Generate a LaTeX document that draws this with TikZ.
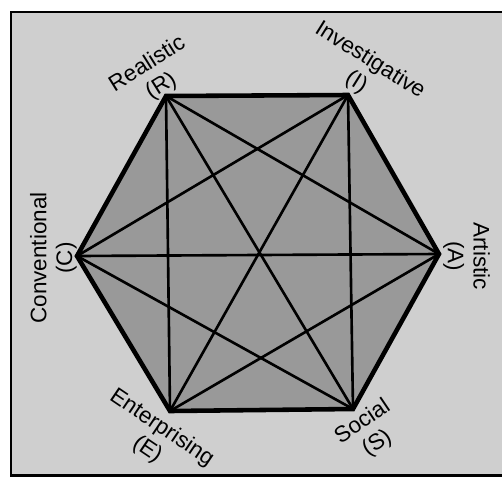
\documentclass[tikz,border=0pt]{standalone}
\usepackage{fontspec}
\setmainfont{Liberation Sans}
\begin{document}
\begin{tikzpicture}[x=0.02cm, y=-0.02cm,
    frame/.style={line width=1.7pt, draw=black},
    hexa/.style={line width=2.6pt, draw=black, line join=miter},
    diag/.style={line width=1.5pt},
    lbl/.style={align=center, inner sep=0pt,
                font=\fontsize{12.8}{14.7}\selectfont},
  ]
  \useasboundingbox (0,0) rectangle (502,477);
  % Fon ve cerceve
  \fill[black!19] (11,12) rectangle (502,475);
  \draw[frame] (502,12) -- (11,12) -- (11,475) -- (502,475);

  % Kose noktalari
  \coordinate (R) at (166,96);
  \coordinate (I) at (348,95);
  \coordinate (A) at (439,254);
  \coordinate (S) at (353,409);
  \coordinate (E) at (170,411);
  \coordinate (C) at (77,256);

  % Altigen ve kosegenler
  \fill[black!40] (R) -- (I) -- (A) -- (S) -- (E) -- (C) -- cycle;
  \foreach \a/\b in {R/A,R/S,R/E,I/S,I/E,I/C,A/E,A/C,S/C}
    \draw[diag] (\a) -- (\b);
  \draw[hexa] (R) -- (I) -- (A) -- (S) -- (E) -- (C) -- cycle;

  % Etiketler
  \node[lbl, rotate=32]  (lr) at (154.5,75.5) {Realistic\\(R)};
  \node[lbl, rotate=-32] (li) at (363,71.5)   {Investigative\\(I)};
  \node[lbl, rotate=-90] (la) at (466.5,256)  {Artistic\\(A)};
  \node[lbl, rotate=34]  (ls) at (370,433)    {Social\\(S)};
  \node[lbl, rotate=-34] (le) at (154.5,439)  {Enterprising\\(E)};
  \node[lbl, rotate=90]  (lc) at (53.5,258)   {Conventional\\(C)};
\end{tikzpicture}
\end{document}
